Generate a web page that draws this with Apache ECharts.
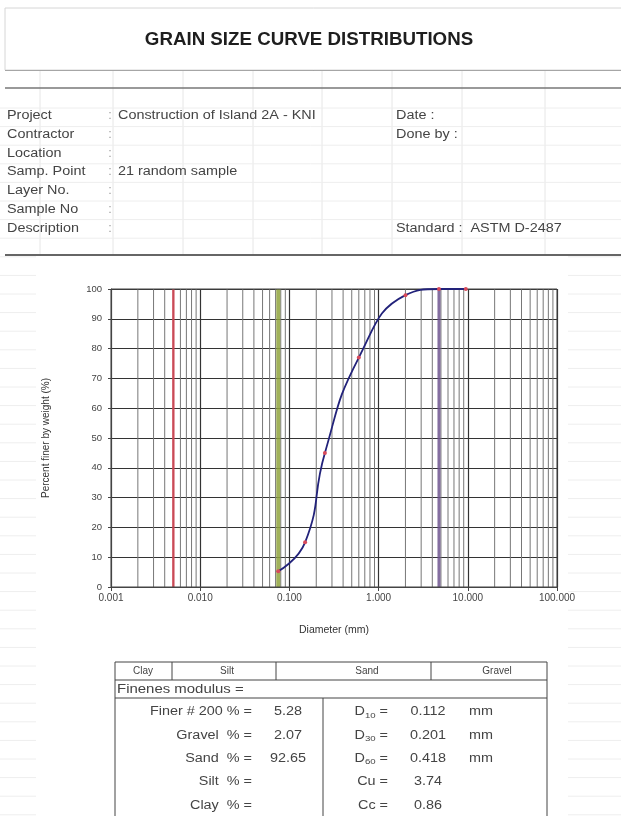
<!DOCTYPE html>
<html>
<head>
<meta charset="utf-8">
<script src="https://cdn.jsdelivr.net/npm/echarts@6/dist/echarts.min.js"></script>
<style>
  html, body { margin: 0; padding: 0; background: #fff; }
  #chart { width: 621px; height: 816px; }
</style>
</head>
<body>
<div id="chart"></div>
<script>
// sieve data (diameter mm / percent passing)
var diameters = [9.5, 4.75, 2.0, 0.6, 0.25, 0.15, 0.075]
var passing = [100, 100, 97.93, 77, 45, 15, 5.28]

// clay/silt, silt/sand (#200), sand/gravel (#4) limits
var limitSizes = [0.005, 0.075, 4.75]
var limitColors = ['#d0404e', '#8fa33c', '#6f558f']
var limitWidths = [2.5, 4, 3]

var infoLabels = ['Project', 'Contractor', 'Location', 'Samp. Point', 'Layer No.', 'Sample No', 'Description']
var infoValues = ['Construction of Island 2A - KNI', '', '', '21 random sample', '', '', '']
var infoRight = ['Date :', 'Done by :', '', '', '', '', 'Standard :  ASTM D-2487']

var soilClasses = ['Clay', 'Silt', 'Sand', 'Gravel']
var leftNames = ['Finer # 200 % =', 'Gravel  % =', 'Sand  % =', 'Silt  % =', 'Clay  % =']
var leftValues = ['5.28', '2.07', '92.65', '', '']
var rightNames = ['D{s|10} =', 'D{s|30} =', 'D{s|60} =', 'Cu =', 'Cc =']
var rightValues = ['0.112', '0.201', '0.418', '3.74', '0.86']
var rightUnits = ['mm', 'mm', 'mm', '', '']

var FONT = 'Liberation Sans'
var TXT = '#444'

var myChart = echarts.init(document.getElementById('chart'))

// minor log grid lines 2..9 in every decade
var minorLines = []
for (var e = -3; e <= 1; e++) {
  for (var k = 2; k <= 9; k++) {
    minorLines.push([k * Math.pow(10, e)])
  }
}

// vertical line drawn through the axes, from 0 % to 100 %
function vLine(styleOf) {
  return function (params, api) {
    var v = api.value(0)
    var p0 = api.coord([v, 0])
    var p1 = api.coord([v, 100])
    return { type: 'line', shape: { x1: p0[0], y1: p0[1], x2: p1[0], y2: p1[1] }, style: styleOf(params.dataIndex) }
  }
}

var g = []
function line(x1, y1, x2, y2, color, w) {
  g.push({ type: 'line', silent: true, z: 1, shape: { x1: x1, y1: y1, x2: x2, y2: y2 },
    style: { stroke: color, lineWidth: w || 1 } })
}
function text(x, y, s, opt) {
  opt = opt || {}
  g.push({ type: 'text', silent: true, z: 5, x: x, y: y, scaleX: opt.sx || 1.2,
    style: { text: s, fill: opt.color || TXT, font: (opt.bold ? 'bold ' : '') + (opt.size || 12) + 'px ' + FONT,
      textAlign: opt.align || 'left', textVerticalAlign: 'middle', rich: { s: { fontSize: 8, fill: TXT, padding: [7, 0, 0, 0] } } } })
}

// faint spreadsheet cells in the background
var cols = [40, 113, 183, 253, 322, 392, 462, 545]
cols.forEach(function (x) { line(x, 70, x, 255, '#e6e6e6') })
for (var y = 108; y < 816; y += 18.6) {
  if (y < 255) line(0, y, 621, y, '#eeeeee')
  else { line(0, y, 36, y, '#eeeeee'); line(568, y, 621, y, '#eeeeee') }
}

// header
g.push({ type: 'rect', silent: true, z: 2, shape: { x: 5, y: 8, width: 630, height: 62 }, style: { fill: '#fff', stroke: '#d6d6d6' } })
text(309, 40, 'GRAIN SIZE CURVE DISTRIBUTIONS', { bold: true, size: 18, align: 'center', color: '#1e1e1e', sx: 1.04 })
line(5, 70, 621, 70, '#777', 2)
line(5, 88, 621, 88, '#777', 1.5)
line(5, 255, 621, 255, '#666', 2)

infoLabels.forEach(function (s, i) {
  var y = 116 + i * 18.7
  text(7, y, s)
  text(108, y, ':', { color: '#aaa' })
  if (infoValues[i]) text(118, y, infoValues[i])
  if (infoRight[i]) text(396, y, infoRight[i])
})

// summary table
var T = { l: 115, r: 547, t: 662 }
line(T.l, T.t, T.r, T.t, '#444')
line(T.l, 680, T.r, 680, '#444')
line(T.l, 698, T.r, 698, '#444')
line(T.l, T.t, T.l, 816, '#444')
line(T.r, T.t, T.r, 816, '#444')
;[172, 276, 431].forEach(function (x) { line(x, T.t, x, 680, '#444') })
line(323, 698, 323, 816, '#444')
;[143, 227, 367, 497].forEach(function (x, i) { text(x, 671, soilClasses[i], { align: 'center', size: 10, sx: 1 }) })
text(117, 689, 'Finenes modulus =', { size: 13, sx: 1.15 })
leftNames.forEach(function (s, i) {
  var y = 712 + i * 23.3
  text(252, y, s, { align: 'right' })
  if (leftValues[i]) text(288, y, leftValues[i], { align: 'center' })
  text(388, y, rightNames[i], { align: 'right' })
  text(428, y, rightValues[i], { align: 'center' })
  if (rightUnits[i]) text(469, y, rightUnits[i])
})

var option = {
  animation: false,
  textStyle: { fontFamily: FONT },
  graphic: g,
  grid: { left: 111, top: 289, width: 446, height: 298, show: true, borderColor: '#444', borderWidth: 1, z: 3 },
  xAxis: {
    type: 'log',
    logBase: 10,
    min: 0.001,
    max: 100,
    name: 'Diameter (mm)',
    nameLocation: 'middle',
    nameGap: 38,
    nameTextStyle: { fontSize: 10.5, color: '#333' },
    axisLine: { lineStyle: { color: '#444' } },
    axisTick: { length: 4, lineStyle: { color: '#444' } },
    axisLabel: { fontSize: 10, color: '#444', margin: 6, formatter: function (v) { return (+v).toFixed(3) } },
    splitLine: { show: true, lineStyle: { color: '#333', width: 1.2 } }
  },
  yAxis: {
    type: 'value',
    min: 0,
    max: 100,
    interval: 10,
    name: 'Percent finer by weight (%)',
    nameLocation: 'middle',
    nameGap: 60,
    nameTextStyle: { fontSize: 10, color: '#333' },
    axisLine: { show: true, lineStyle: { color: '#444' } },
    axisTick: { show: true, length: 3, lineStyle: { color: '#444' } },
    axisLabel: { fontSize: 9.5, color: '#444', margin: 9 },
    splitLine: { show: true, lineStyle: { color: '#333', width: 1.2 } }
  },
  series: [
    {
      // minor log grid
      type: 'custom',
      silent: true,
      z: 1,
      data: minorLines,
      encode: { x: 0 },
      renderItem: vLine(function () { return { stroke: '#777', lineWidth: 1 } })
    },
    {
      // soil class limits
      type: 'custom',
      silent: true,
      z: 2,
      data: limitSizes.map(function (v) { return [v] }),
      encode: { x: 0 },
      renderItem: vLine(function (i) { return { stroke: limitColors[i], lineWidth: limitWidths[i], opacity: 0.85 } })
    },
    {
      name: 'Grading',
      type: 'line',
      z: 4,
      smooth: 0.5,
      data: diameters.map(function (d, i) { return [d, passing[i]] }),
      symbol: 'circle',
      symbolSize: 4,
      itemStyle: { color: '#d84a5a' },
      lineStyle: { color: '#22227a', width: 1.8 }
    }
  ]
}

myChart.setOption(option)

window.onresize = function () {
  myChart.resize()
}
</script>
</body>
</html>
